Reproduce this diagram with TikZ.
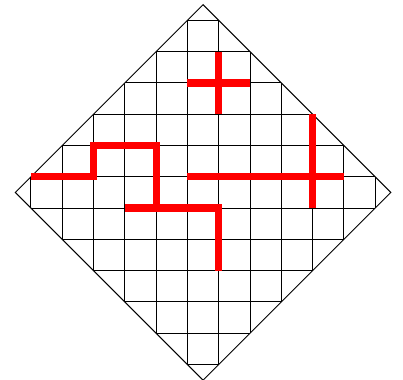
\documentclass[tikz,border=0pt]{standalone}
\begin{document}
\begin{tikzpicture}
% Diamond board with walls
\def\cellsz{0.5cm}
\providecommand{\boardGridColor}{black}
\providecommand{\boardWallColor}{red}
\providecommand{\boardGridLineWidth}{0.45pt}
\providecommand{\boardWallLineWidth}{3.3pt}
\begin{scope}[x=\cellsz, y=\cellsz, line join=miter]
  \useasboundingbox (-6.49,-5.99) rectangle (6.39,6.15);
  % Outer diamond
  \draw[line width=\boardGridLineWidth] (0,6) -- (6,0) -- (0,-6) -- (-6,0) -- cycle;
  % Vertical lines
  \begin{scope}[draw=\boardGridColor, line width=\boardGridLineWidth]
    \draw (-5.5,-0.5) -- (-5.5,0.5);
    \draw (-4.5,-1.5) -- (-4.5,1.5);
    \draw (-3.5,-2.5) -- (-3.5,2.5);
    \draw (-2.5,-3.5) -- (-2.5,3.5);
    \draw (-1.5,-4.5) -- (-1.5,4.5);
    \draw (-0.5,-5.5) -- (-0.5,5.5);
    \draw (0.5,-5.5) -- (0.5,5.5);
    \draw (1.5,-4.5) -- (1.5,4.5);
    \draw (2.5,-3.5) -- (2.5,3.5);
    \draw (3.5,-2.5) -- (3.5,2.5);
    \draw (4.5,-1.5) -- (4.5,1.5);
    \draw (5.5,-0.5) -- (5.5,0.5);
  \end{scope}
  % Horizontal lines
  \begin{scope}[draw=\boardGridColor, line width=\boardGridLineWidth]
    \draw (-0.5,-5.5) -- (0.5,-5.5);
    \draw (-1.5,-4.5) -- (1.5,-4.5);
    \draw (-2.5,-3.5) -- (2.5,-3.5);
    \draw (-3.5,-2.5) -- (3.5,-2.5);
    \draw (-4.5,-1.5) -- (4.5,-1.5);
    \draw (-5.5,-0.5) -- (5.5,-0.5);
    \draw (-5.5,0.5) -- (5.5,0.5);
    \draw (-4.5,1.5) -- (4.5,1.5);
    \draw (-3.5,2.5) -- (3.5,2.5);
    \draw (-2.5,3.5) -- (2.5,3.5);
    \draw (-1.5,4.5) -- (1.5,4.5);
    \draw (-0.5,5.5) -- (0.5,5.5);
  \end{scope}
  % Walls
  \begin{scope}[draw=\boardWallColor, line width=\boardWallLineWidth, line cap=butt]
    \draw (0.5,4.5) -- (0.5,2.5);
    \draw (-0.5,3.5) -- (1.5,3.5);
    \draw (-5.5,0.5) -- (-3.5,0.5) -- (-3.5,1.5) -- (-1.5,1.5) -- (-1.5,-0.5);
    \draw (-2.5,-0.5) -- (0.5,-0.5) -- (0.5,-2.5);
    \draw (-0.5,0.5) -- (4.5,0.5);
    \draw (3.5,2.5) -- (3.5,-0.5);
  \end{scope}
\end{scope}
\end{tikzpicture}
\end{document}
